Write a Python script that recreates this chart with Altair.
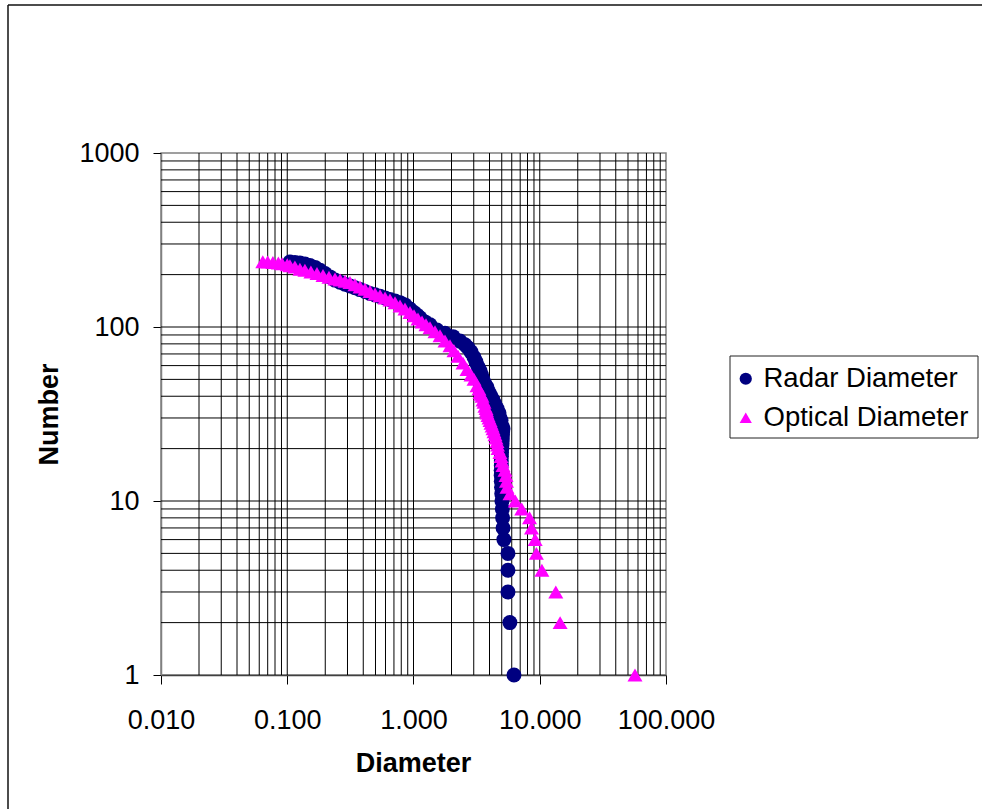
import altair as alt
import pandas as pd

# ---- data (rank-size plot) ----
radar_diameter = [0.105, 0.115, 0.126, 0.138, 0.151, 0.166, 0.182, 0.199, 0.218, 0.239,
                  0.262, 0.287, 0.314, 0.344, 0.377, 0.413, 0.452, 0.496, 0.543, 0.595,
                  0.651, 0.714, 0.782, 0.856, 0.938, 1.009, 1.068, 1.126, 1.233, 1.351,
                  1.535, 1.776, 2.056, 2.335, 2.558, 2.702, 2.854, 3.015, 3.126, 3.243,
                  3.363, 3.46, 3.552, 3.684, 3.822, 3.963, 4.111, 4.264, 4.422, 4.586,
                  4.756, 4.843, 4.932, 5.023, 5.116, 5.08, 5.06, 5.05, 5.03, 5.02,
                  5.00, 4.98, 4.97, 4.96, 4.96, 4.95, 4.95, 4.96, 4.98, 5.00,
                  5.02, 5.05, 5.08, 5.12, 5.2, 5.6, 5.6, 5.6, 5.8, 6.25]
radar_number = [236, 235, 233, 230, 226, 220, 212, 203, 194, 186,
                181, 176, 172, 168, 164, 160, 156, 153, 150, 147,
                144, 141, 138, 134, 127, 121, 117, 113, 107, 103,
                96, 92, 88, 83, 79, 76, 72, 67, 63, 59,
                56, 53, 50, 47, 45, 42, 40, 38, 36, 34,
                32, 30, 29, 27, 26, 25, 24, 23, 22, 21,
                20, 19, 18, 17, 16, 15, 14, 13, 12, 11,
                10, 9, 8, 7, 6, 5, 4, 3, 2, 1]

optical_diameter = [0.064, 0.070, 0.077, 0.085, 0.091, 0.100, 0.105, 0.115, 0.126, 0.138,
                    0.154, 0.172, 0.192, 0.214, 0.239, 0.262, 0.287, 0.314, 0.344, 0.377,
                    0.413, 0.452, 0.496, 0.543, 0.595, 0.651, 0.714, 0.782, 0.856, 0.938,
                    1.009, 1.085, 1.168, 1.256, 1.351, 1.480, 1.622, 1.776, 1.946, 2.093,
                    2.252, 2.467, 2.653, 2.854, 3.015, 3.184, 3.30, 3.363, 3.42, 3.488,
                    3.55, 3.618, 3.68, 3.752, 3.79, 3.822, 3.89, 3.963, 4.04, 4.111,
                    4.19, 4.264, 4.34, 4.422, 4.50, 4.586, 4.63, 4.671, 4.843, 4.93,
                    5.023, 5.116, 5.306, 5.403, 5.45, 5.503, 5.812, 6.4, 7.2, 8.3,
                    8.6, 9.2, 9.4, 10.4, 13.4, 14.5, 56.8]
optical_number = [237, 236, 235, 233, 231, 228, 225, 221, 215, 212,
                  207, 203, 198, 193, 189, 186, 183, 180, 175, 170,
                  165, 160, 155, 151, 147, 143, 138, 132, 127, 121,
                  116, 111, 107, 103, 99, 94, 89, 83, 78, 73,
                  68, 62, 57, 53, 50, 46, 44, 42, 41, 40,
                  38, 37, 35, 34, 33, 32, 31, 30, 29, 28,
                  27, 26, 25, 24, 23, 22, 21, 20, 19, 18,
                  17, 16, 15, 14, 13, 12, 11, 10, 9, 8,
                  7, 6, 5, 4, 3, 2, 1]

series_names = ["Radar Diameter", "Optical Diameter"]
series_colors = ["#000080", "#FF00FF"]
series_shapes = ["circle", "triangle-up"]

x_ticks = [0.01, 0.1, 1, 10, 100]
y_ticks = [1, 10, 100, 1000]
x_grid = [0.02, 0.03, 0.04, 0.05, 0.06, 0.07, 0.08, 0.09, 0.1,
          0.2, 0.3, 0.4, 0.5, 0.6, 0.7, 0.8, 0.9, 1,
          2, 3, 4, 5, 6, 7, 8, 9, 10,
          20, 30, 40, 50, 60, 70, 80, 90]
y_grid = [2, 3, 4, 5, 6, 7, 8, 9, 10,
          20, 30, 40, 50, 60, 70, 80, 90, 100,
          200, 300, 400, 500, 600, 700, 800, 900]

FONT = "Liberation Sans"
FS = 27

df = pd.DataFrame({
    "Diameter": radar_diameter + optical_diameter,
    "Number": radar_number + optical_number,
    "Series": [series_names[0]] * len(radar_diameter) + [series_names[1]] * len(optical_diameter),
    "ord": list(range(len(radar_diameter) + len(optical_diameter))),
})

xscale = alt.Scale(type="log", domain=[0.01, 100], nice=False)
yscale = alt.Scale(type="log", domain=[1, 1000], nice=False)

x_axis = alt.Axis(
    values=x_ticks, format=".3f", grid=False,
    labelFont=FONT, labelFontSize=FS, labelColor="black",
    labelBaseline="alphabetic", labelPadding=44, labelOverlap=False, labelFlush=False,
    tickColor="black", tickSize=9, tickWidth=1,
    domainColor="#404040", domainWidth=1.5,
    title="Diameter", titleFont=FONT, titleFontSize=FS, titleFontWeight="bold",
    titleColor="black", titleX=252, titleY=88, titleBaseline="middle",
)
y_axis = alt.Axis(
    values=y_ticks, format="d", grid=False,
    labelFont=FONT, labelFontSize=FS, labelColor="black",
    labelPadding=14, labelOverlap=False, labelFlush=False,
    tickColor="black", tickSize=8, tickWidth=1,
    domainColor="#808080", domainWidth=1.5,
    title="Number", titleFont=FONT, titleFontSize=FS, titleFontWeight="bold",
    titleColor="black", titleX=-112, titleY=261, titleAngle=270, titleBaseline="middle",
)

gridx = alt.Chart(pd.DataFrame({"gx": x_grid})).mark_rule(color="black", strokeWidth=1).encode(
    x=alt.X("gx:Q", scale=xscale, axis=x_axis)
)
gridy = alt.Chart(pd.DataFrame({"gy": y_grid})).mark_rule(color="black", strokeWidth=1).encode(
    y=alt.Y("gy:Q", scale=yscale, axis=y_axis)
)

legend = alt.Legend(
    orient="none", legendX=562, legendY=203, title=None,
    labelFont=FONT, labelFontSize=27.5, labelColor="black", labelLimit=500,
    symbolSize=150, symbolStrokeWidth=0, symbolOpacity=1,
    padding=9, rowPadding=10, labelOffset=4,
)

points = alt.Chart(df).mark_point(filled=True, opacity=1, size=225).encode(
    x=alt.X("Diameter:Q", scale=xscale, axis=x_axis),
    y=alt.Y("Number:Q", scale=yscale, axis=y_axis),
    color=alt.Color("Series:N", scale=alt.Scale(domain=series_names, range=series_colors), legend=legend),
    shape=alt.Shape("Series:N", scale=alt.Scale(domain=series_names, range=series_shapes), legend=legend),
    order=alt.Order("ord:Q"),
)

one = pd.DataFrame({"k": [0]})
border_left = alt.Chart(one).mark_rule(color="#111111", strokeWidth=1.5).encode(
    x=alt.value(-153), y=alt.value(-148), y2=alt.value(656)
)
border_top = alt.Chart(one).mark_rule(color="#111111", strokeWidth=1.5).encode(
    x=alt.value(-153), x2=alt.value(821), y=alt.value(-148)
)
legend_box = alt.Chart(one).mark_rect(fill="white", stroke="#222222", strokeWidth=1).encode(
    x=alt.value(569), x2=alt.value(817), y=alt.value(203), y2=alt.value(285)
)

chart = alt.layer(gridx, gridy, legend_box, points, border_left, border_top).properties(
    width=505, height=522,
    autosize=alt.AutoSizeParams(type="none"),
    padding={"left": 161, "top": 153, "right": 316, "bottom": 134},
    background="white",
).configure_view(stroke="#808080", strokeWidth=1.5)

chart.save("out.html", embed_options={"renderer": "svg", "actions": False})
